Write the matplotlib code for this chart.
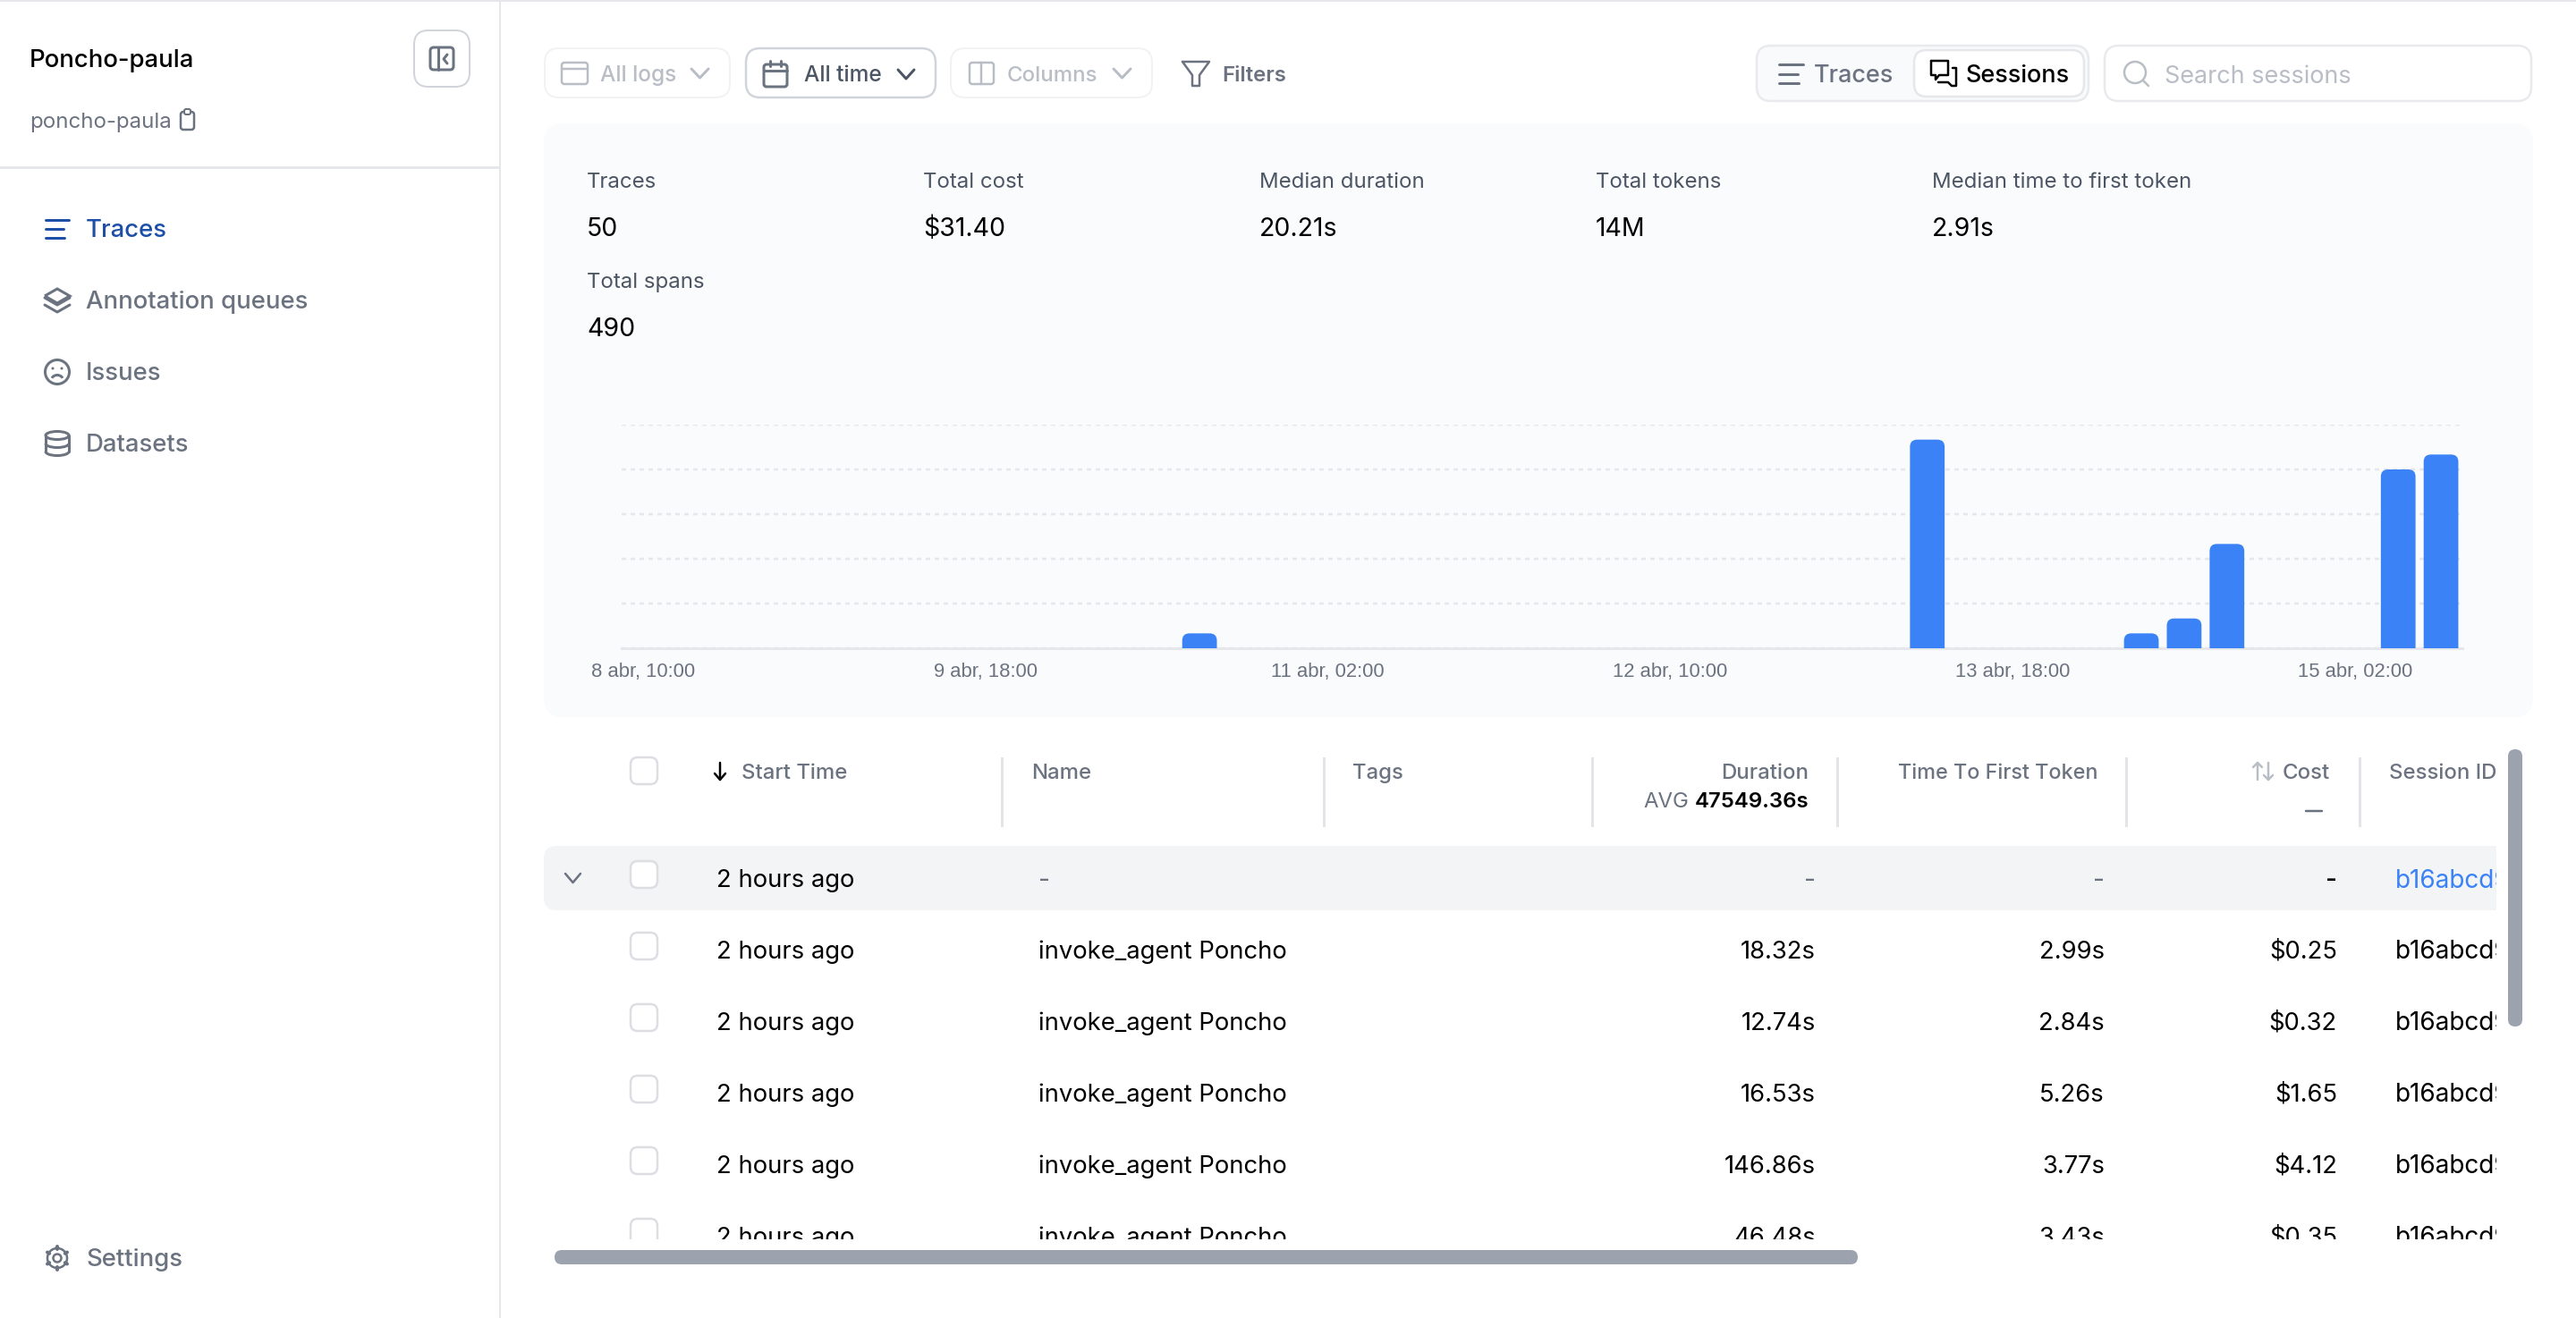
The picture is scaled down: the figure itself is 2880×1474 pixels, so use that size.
import matplotlib
matplotlib.use("Agg")
import matplotlib.pyplot as plt
from matplotlib.patches import FancyBboxPatch, PathPatch, Circle, Ellipse, Arc, Rectangle
from matplotlib.path import Path

W, H = 2880, 1474

# traces per 4 hour bin
bin_counts = [0, 0, 0, 0, 0, 0, 0, 0, 0, 0, 0, 0, 0, 1, 0, 0, 0, 0, 0, 0, 0, 0,
              0, 0, 0, 0, 0, 0, 0, 0, 14, 0, 0, 0, 0, 1, 2, 7, 0, 0, 0, 12, 13]
tick_bins = [0, 8, 16, 24, 32, 40]
tick_labels = ["8 abr, 10:00", "9 abr, 18:00", "11 abr, 02:00", "12 abr, 10:00", "13 abr, 18:00", "15 abr, 02:00"]
grid_values = [0, 3, 6, 9, 12, 15]

nav_items = ["Traces", "Annotation queues", "Issues", "Datasets"]
nav_rows = [256, 336, 416, 496]

stat_names = ["Traces", "Total cost", "Median duration", "Total tokens", "Median time to first token", "Total spans"]
stat_values = ["50", "$31.40", "20.21s", "14M", "2.91s", "490"]
stat_x = [656, 1032, 1408, 1784, 2160, 656]
stat_y = [202, 202, 202, 202, 202, 314]

row_y = [1063, 1143, 1223, 1303, 1383]
row_durations = ["18.32s", "12.74s", "16.53s", "146.86s", "46.48s"]
row_first_token = ["2.99s", "2.84s", "5.26s", "3.77s", "3.43s"]
row_costs = ["$0.25", "$0.32", "$1.65", "$4.12", "$0.35"]

GREY = "#6b7280"
LINE = "#e5e7eb"
FAINT = "#b9bdc5"
BLUE = "#3b82f6"
PANEL = "#fafbfc"

plt.rcParams['font.family'] = ['Inter', 'DejaVu Sans']

fig = plt.figure(figsize=(W / 100, H / 100), dpi=100, facecolor="white")
ui = fig.add_axes([0, 0, 1, 1])
ui.set_xlim(0, W)
ui.set_ylim(H, 0)
ui.axis("off")


def px(n):
    return n * 0.72


def txt(x, y, s, size=27.4, color="black", weight="normal", ha="left", clip=None):
    t = ui.text(x, y - 1, s, fontsize=px(size), color=color, fontweight=weight, ha=ha, va="center_baseline")
    if clip:
        t.set_clip_on(True)
        t.set_clip_path(Rectangle((clip[0], clip[1]), clip[2] - clip[0], clip[3] - clip[1], transform=ui.transData))
    return t


def box(x0, y0, x1, y1, r=14, fc="white", ec=LINE, lw=2, z=1):
    b = FancyBboxPatch((x0 + r, y0 + r), x1 - x0 - 2 * r, y1 - y0 - 2 * r,
                       boxstyle="round,pad=%d,rounding_size=%d" % (r, r),
                       fc=fc, ec=ec, lw=px(lw), zorder=z)
    ui.add_patch(b)
    return b


def stroke(xs, ys, color=GREY, lw=3, z=3):
    ui.plot(xs, ys, color=color, lw=px(lw), solid_capstyle="round", solid_joinstyle="round", zorder=z)


def lines_icon(x0, y0, x1, y1, color):
    w = x1 - x0
    stroke([x0, x1], [y0, y0], color)
    stroke([x0, x0 + w * 0.77], [(y0 + y1) / 2] * 2, color)
    stroke([x0, x0 + w * 0.82], [y1, y1], color)


def chevron(x0, y0, x1, y1, color=GREY, lw=3):
    stroke([x0, (x0 + x1) / 2, x1], [y0, y1, y0], color, lw)


def checkbox(y):
    box(705, y - 15, 735, y + 15, 8, "white", "#dcdee2", 2.5, 4)


# page frame
ui.add_patch(Rectangle((0, 0), W, 2, fc=LINE, ec="none"))
ui.add_patch(Rectangle((558, 0), 2, H, fc=LINE, ec="none"))
ui.add_patch(Rectangle((0, 186), 558, 3, fc=LINE, ec="none"))

# sidebar
txt(33, 66, "Poncho-paula", 27.5, "black", "medium")
txt(33, 135, "poncho-paula", 24, GREY)
box(202, 125, 217, 145, 3, "white", GREY, 2.5, 3)
box(206, 122, 213, 128, 2, "white", GREY, 2, 4)
box(463, 34, 525, 97, 16, "white", "#d1d5db", 2)
box(481, 53, 507, 78, 4, "white", GREY, 3, 3)
stroke([490, 490], [53, 78])
stroke([500, 496, 500], [61, 66, 71])

for name, y in zip(nav_items, nav_rows):
    txt(96, y, name, 27.5, "#1e4fa8" if name == "Traces" else GREY, "medium")
lines_icon(51, 246, 77, 266, "#1e4fa8")
ui.add_patch(PathPatch(Path([(50, 331), (64, 323), (78, 331), (64, 339), (50, 331)]),
                       fc="none", ec=GREY, lw=px(3), zorder=3))
stroke([50, 64, 78], [333, 341, 333])
stroke([50, 64, 78], [341, 349, 341])
ui.add_patch(Circle((64, 416), 13.5, fc="none", ec=GREY, lw=px(3), zorder=3))
ui.add_patch(Circle((59, 412), 1.5, fc=GREY, ec="none", zorder=3))
ui.add_patch(Circle((69, 412), 1.5, fc=GREY, ec="none", zorder=3))
ui.add_patch(Arc((64, 425), 13, 11, theta1=200, theta2=340, ec=GREY, lw=px(3), zorder=3))
ui.add_patch(Ellipse((64, 487), 26, 9, fc="none", ec=GREY, lw=px(3), zorder=3))
stroke([51, 51], [487, 505])
stroke([77, 77], [487, 505])
ui.add_patch(Arc((64, 496), 26, 9, theta1=0, theta2=180, ec=GREY, lw=px(3), zorder=3))
ui.add_patch(Arc((64, 505), 26, 9, theta1=0, theta2=180, ec=GREY, lw=px(3), zorder=3))
txt(96, 1407, "Settings", 27.5, GREY, "medium")
ui.add_patch(Circle((64, 1407), 4.5, fc="none", ec=GREY, lw=px(2.5), zorder=3))
ui.add_patch(Circle((64, 1407), 11, fc="none", ec=GREY, lw=px(2.5), zorder=3))
for dx, dy in [(0, 13), (0, -13), (11, 6.5), (-11, 6.5), (11, -6.5), (-11, -6.5)]:
    stroke([64 + dx * 0.8, 64 + dx], [1407 + dy * 0.8, 1407 + dy], GREY, 4)

# toolbar
box(609, 54, 816, 109, 16, "white", "#f1f2f4", 2)
box(628, 70, 657, 94, 3, "white", FAINT, 2.5, 3)
stroke([628, 657], [77, 77], FAINT, 2.5)
txt(671, 83, "All logs", 24.5, FAINT, "medium")
chevron(773, 77, 792, 87, FAINT)

box(834, 54, 1046, 109, 16, "white", "#d1d5db", 2.5)
box(854, 72, 880, 97, 3, "white", GREY, 3, 3)
stroke([854, 880], [79, 79])
stroke([861, 861], [68, 74])
stroke([873, 873], [68, 74])
txt(899, 83, "All time", 24.5, "#4b5563", "medium")
chevron(1004, 78, 1022, 88, "#4b5563")

box(1063, 54, 1288, 109, 16, "white", "#f1f2f4", 2)
box(1084, 70, 1111, 94, 3, "white", FAINT, 2.5, 3)
stroke([1097, 1097], [70, 94], FAINT, 2.5)
txt(1126, 83, "Columns", 24, FAINT, "medium")
chevron(1245, 77, 1264, 87, FAINT)

stroke([1322, 1352, 1341, 1341, 1333, 1333, 1322], [69, 69, 84, 96, 96, 84, 69], GREY, 2.5)
txt(1366, 83, "Filters", 24, GREY, "semibold")

box(1964, 51, 2335, 113, 16, "#f9fafb", "#e9eaed", 2.5)
box(2140, 56, 2330, 108, 14, "white", "#e5e7eb", 2.5, 2)
lines_icon(1989, 72, 2016, 93, GREY)
txt(2028, 83, "Traces", 27, GREY, "medium")
# chat bubbles
stroke([2159, 2178, 2178, 2168, 2164, 2164, 2159, 2159], [68, 68, 84, 84, 89, 84, 84, 68], "black", 2.5)
stroke([2183, 2187, 2187, 2182, 2182, 2178, 2167], [76, 76, 96, 96, 96, 92, 92], "black", 2.5)
txt(2198, 83, "Sessions", 27, "black", "medium")

box(2353, 51, 2830, 113, 16, "white", "#e9eaed", 2.5)
ui.add_patch(Circle((2387, 81), 12, fc="none", ec=FAINT, lw=px(2.5), zorder=3))
stroke([2396, 2402], [90, 96], FAINT, 2.5)
txt(2420, 84, "Search sessions", 27, FAINT)

# stats panel
box(608, 138, 2832, 802, 22, PANEL, "none", 0, 1)
for name, value, x, y in zip(stat_names, stat_values, stat_x, stat_y):
    txt(x, y, name, 24, "#4b5563")
    txt(x, y + 52, value, 28.5, "black")

# the bar chart
ax = fig.add_axes([695 / W, 1 - 725 / H, (2753 - 695) / W, 250 / H])
ax.patch.set_alpha(0)
bins = list(range(len(bin_counts)))
bars = ax.bar(bins, bin_counts, width=0.81, color=BLUE, zorder=3)
ax.set_xlim(-0.5, len(bin_counts) - 0.5)
ax.set_ylim(0, 15)

# rounded tops, radius in data units of about 8 px
rx, ry = 0.17, 0.48
for bar in bars:
    bar.set_visible(False)
    h = bar.get_height()
    if h == 0:
        continue
    x0 = bar.get_x()
    x1 = x0 + bar.get_width()
    verts = [(x0, 0), (x0, h - ry), (x0, h), (x0 + rx, h), (x1 - rx, h), (x1, h), (x1, h - ry), (x1, 0), (x0, 0)]
    codes = [Path.MOVETO, Path.LINETO, Path.CURVE3, Path.CURVE3, Path.LINETO, Path.CURVE3, Path.CURVE3, Path.LINETO, Path.CLOSEPOLY]
    ax.add_patch(PathPatch(Path(verts, codes), fc=BLUE, ec="none", zorder=3))

ax.set_yticks(grid_values)
ax.set_yticklabels([])
ax.tick_params(axis="y", length=0)
ax.yaxis.grid(True, color=LINE, lw=px(2.5), linestyle=(0, (2, 2)))
ax.set_axisbelow(True)
ax.set_xticks(tick_bins)
ax.set_xticklabels(tick_labels, fontsize=px(22), color=GREY, family="Liberation Sans")
ax.tick_params(axis="x", length=0, pad=px(16))
for side in ["top", "left", "right"]:
    ax.spines[side].set_visible(False)
ax.spines["bottom"].set_color(LINE)
ax.spines["bottom"].set_linewidth(px(3))

# table header
checkbox(862)
stroke([805, 805], [853, 872], "black", 2.5)
stroke([799, 805, 811], [865, 872, 865], "black", 2.5)
txt(829, 863, "Start Time", 24, GREY, "medium")
for x in [1120, 1480, 1780, 2054, 2377, 2638]:
    ui.add_patch(Rectangle((x - 1, 847), 2.5, 78, fc="#e2e4e8", ec="none"))
txt(1153, 863, "Name", 24, GREY, "medium")
txt(1512, 863, "Tags", 24, GREY, "medium")
txt(2022, 863, "Duration", 24, GREY, "medium", "right")
txt(1888, 895, "AVG", 24, GREY, "normal", "right")
txt(2022, 895, "47549.36s", 24, "black", "semibold", "right")
txt(2346, 863, "Time To First Token", 23.4, GREY, "medium", "right")
txt(2605, 863, "Cost", 24, GREY, "medium", "right")
stroke([2524, 2524], [853, 872], FAINT, 2.5)
stroke([2519, 2524, 2529], [858, 853, 858], FAINT, 2.5)
stroke([2536, 2536], [853, 872], FAINT, 2.5)
stroke([2531, 2536, 2541], [867, 872, 867], FAINT, 2.5)
stroke([2578, 2596], [907, 907], GREY, 2.5)
txt(2671, 863, "Session ID", 24, GREY, "medium")

# first row, the session
box(608, 946, 2791, 1018, 14, "#f3f4f6", "none", 0, 1)
ui.add_patch(Rectangle((2700, 946), 91, 72, fc="#f3f4f6", ec="none", zorder=1))
chevron(632, 977, 649, 987, GREY, 2.5)
checkbox(978)
txt(801, 983, "2 hours ago")
txt(1161, 983, "-", 28, GREY)
txt(2030, 983, "-", 28, GREY, "normal", "right")
txt(2353, 983, "-", 28, GREY, "normal", "right")
txt(2613, 983, "-", 28, "black", "medium", "right")
txt(2678, 983, "b16abcd9", 28, BLUE, clip=(2670, 940, 2791, 1020))

# trace rows, the table stops at y=1386
table_clip = (600, 1020, 2791, 1386)
for y, dur, first, cost in zip(row_y, row_durations, row_first_token, row_costs):
    b = box(705, y - 20, 735, y + 10, 8, "white", "#dcdee2", 2.5, 4)
    b.set_clip_path(Rectangle((600, 1020), 2200, 366, transform=ui.transData))
    txt(801, y, "2 hours ago", clip=table_clip)
    txt(1161, y, "invoke_agent Poncho", clip=table_clip)
    txt(2030, y, dur, ha="right", clip=table_clip)
    txt(2353, y, first, ha="right", clip=table_clip)
    txt(2613, y, cost, ha="right", clip=table_clip)
    txt(2678, y, "b16abcd9", 28, clip=table_clip)

# scrollbars
box(2804, 838, 2820, 1148, 8, "#9ca3af", "none", 0, 5)
box(620, 1398, 2077, 1414, 8, "#9ca3af", "none", 0, 5)

fig.savefig("out.png", dpi=100)
